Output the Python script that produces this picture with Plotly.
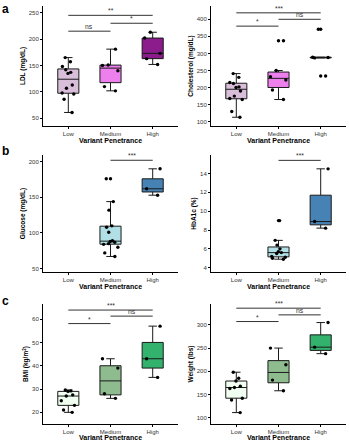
import numpy as np
import plotly.graph_objects as go

categories = ["Low", "Medium", "High"]

# ---- data ----
ldl_low = [61, 86, 96, 98, 107, 113, 135, 137, 142, 148, 157, 165]
ldl_medium = [102, 110, 140, 150, 151, 181]
ldl_high = [152, 163, 173, 202, 213]

chol_low = [113, 130, 165, 168, 175, 190, 200, 202, 212, 215, 230, 241]
chol_medium = [165, 193, 222, 232, 250, 337]
chol_high = [234, 287, 288, 289, 371]

glucose_medium = [67, 72, 80, 84, 85, 87, 88, 89, 101, 108, 110, 132, 144, 176]
glucose_high = [153, 162, 190]

hba1c_medium = [4.9, 5.0, 5.1, 5.2, 5.5, 5.6, 5.7, 6.0, 6.4, 6.9, 9.0]
hba1c_high = [8.2, 8.9, 14.5]

bmi_low = [20, 21, 23, 25, 27, 27.5, 29, 29.2, 29.6]
bmi_medium = [26, 28, 39, 43]
bmi_high = [35, 43, 57]

weight_low = [111, 138, 142, 163, 165, 168, 179, 185, 198]
weight_medium = [158, 181, 214, 250]
weight_high = [238, 252, 305]

# significance comparisons: (group 1, group 2, label, bracket level)
ldl_sig = [("Low", "High", "**", 245), ("Medium", "High", "*", 230), ("Low", "Medium", "ns", 215)]
chol_sig = [("Low", "High", "***", 419), ("Medium", "High", "ns", 400), ("Low", "Medium", "*", 380)]
glucose_sig = [("Medium", "High", "***", 202)]
hba1c_sig = [("Medium", "High", "***", 15.4)]
bmi_sig = [("Low", "High", "***", 63.9), ("Medium", "High", "ns", 61.3), ("Low", "Medium", "*", 58.1)]
weight_sig = [("Low", "High", "***", 336), ("Medium", "High", "ns", 321.6), ("Low", "Medium", "*", 307.2)]

y_titles = ["LDL (mg/dL)", "Cholesterol (mg/dL)", "Glucose (mg/dL)", "HbA1c (%)",
            "BMI (kg/m<sup>2</sup>)", "Weight (lbs)"]
y_ticks = [[50, 100, 150, 200, 250], [100, 150, 200, 250, 300, 350, 400], [50, 100, 150, 200],
           [4, 6, 8, 10, 12, 14], [20, 30, 40, 50, 60], [100, 150, 200, 250, 300]]
x_title = "Variant Penetrance"
panel_labels = ["a", "b", "c"]

# ---- styling ----
purples = {"Low": "#D9BEDA", "Medium": "#EE80EE", "High": "#8C1C8C"}
blues = {"Low": "#DDEFF5", "Medium": "#B0E0E6", "High": "#4682B4"}
greens = {"Low": "#F0FFF0", "Medium": "#8FBC8F", "High": "#33B26E"}

panels = [
    ({"Low": ldl_low, "Medium": ldl_medium, "High": ldl_high}, purples, [35.4, 262.7], ldl_sig),
    ({"Low": chol_low, "Medium": chol_medium, "High": chol_high}, purples, [87.4, 439], chol_sig),
    ({"Medium": glucose_medium, "High": glucose_high}, blues, [45.2, 209.4], glucose_sig),
    ({"Medium": hba1c_medium, "High": hba1c_high}, blues, [3.54, 15.97], hba1c_sig),
    ({"Low": bmi_low, "Medium": bmi_medium, "High": bmi_high}, greens, [15, 66.5], bmi_sig),
    ({"Low": weight_low, "Medium": weight_medium, "High": weight_high}, greens, [86.4, 345], weight_sig),
]


def box_stats(v):
    """Tukey box statistics (R type-7 quartiles, 1.5*IQR whiskers) like ggplot."""
    a = np.sort(np.asarray(v, dtype=float))
    q1, med, q3 = np.percentile(a, [25, 50, 75])
    iqr = q3 - q1
    lo = a[a >= q1 - 1.5 * iqr].min()
    hi = a[a <= q3 + 1.5 * iqr].max()
    return q1, med, q3, lo, hi


W, H = 349, 440
x_dom_px = [(43, 178), (211, 346)]
y_dom_px = [(6, 126), (155, 272), (304, 424)]
x_title_gap = [14.5, 14.5, 13.0]
label_top_px = [0, 142, 292]

FONT = "Liberation Sans, Arial, sans-serif"
fig = go.Figure()
annotations = []
layout = {}

for i, (vals, colors, yr, sig) in enumerate(panels):
    suf = "" if i == 0 else str(i + 1)
    xa, ya = "x" + suf, "y" + suf
    col, row = i % 2, i // 2
    for cat in categories:
        if cat not in vals:
            continue
        v = vals[cat]
        q1, med, q3, lo, hi = box_stats(v)
        fig.add_trace(go.Box(
            x=[cat], q1=[q1], median=[med], q3=[q3], lowerfence=[lo], upperfence=[hi],
            xaxis=xa, yaxis=ya, name=cat, fillcolor=colors[cat],
            line=dict(color="#1a1a1a", width=1), width=0.5, whiskerwidth=0.4,
            boxpoints=False, showlegend=False,
        ))
        # outliers drawn by the boxplot at the box centre
        outl = [y for y in v if y < lo or y > hi]
        if outl:
            fig.add_trace(go.Scatter(
                x=[cat] * len(outl), y=outl, xaxis=xa, yaxis=ya, mode="markers",
                marker=dict(color="black", size=3.4), showlegend=False, hoverinfo="skip",
            ))
        # jittered raw points
        fig.add_trace(go.Box(
            x=[cat] * len(v), y=v, xaxis=xa, yaxis=ya, name=cat,
            fillcolor="rgba(0,0,0,0)", line=dict(color="rgba(0,0,0,0)", width=0),
            marker=dict(color="black", size=3.4), boxpoints="all", jitter=0.9, pointpos=0,
            width=0.5, whiskerwidth=0, showlegend=False,
        ))
    for g1, g2, lab, lvl in sig:
        fig.add_trace(go.Scatter(
            x=[g1, g2], y=[lvl, lvl], xaxis=xa, yaxis=ya, mode="lines",
            line=dict(color="#333333", width=1), showlegend=False, hoverinfo="skip",
        ))
        annotations.append(dict(
            x=(categories.index(g1) + categories.index(g2)) / 2, y=lvl, xref=xa, yref=ya,
            text=lab, showarrow=False, yanchor="bottom", yshift=-1,
            font=dict(family=FONT, size=6.8, color="#333333"),
        ))
    x0, x1 = x_dom_px[col]
    y0, y1 = y_dom_px[row]
    layout["xaxis" + suf] = dict(
        domain=[x0 / W, x1 / W], anchor=ya, type="category",
        categoryorder="array", categoryarray=categories, range=[-0.6, 2.6],
        showline=True, linecolor="black", linewidth=1, ticks="outside", ticklen=2,
        tickcolor="black", tickfont=dict(family=FONT, size=6, color="#333333"),
        showgrid=False, zeroline=False, automargin=False,
    )
    layout["yaxis" + suf] = dict(
        domain=[1 - y1 / H, 1 - y0 / H], anchor=xa, range=yr, tickvals=y_ticks[i],
        showline=True, linecolor="black", linewidth=1, ticks="outside", ticklen=2,
        tickcolor="black", tickfont=dict(family=FONT, size=6, color="#333333"),
        showgrid=False, zeroline=False, automargin=False,
        title=dict(text=y_titles[i], standoff=2,
                   font=dict(family=FONT, size=6.5, color="black", weight="bold")),
    )
    # x-axis title (as annotation so the bottom row isn't clamped by the margin)
    annotations.append(dict(
        x=(x0 + x1) / 2 / W, y=1 - (y1 + x_title_gap[row]) / H, xref="paper", yref="paper",
        text=x_title, showarrow=False, xanchor="center", yanchor="middle",
        font=dict(family=FONT, size=7, color="black", weight="bold"),
    ))

for r, lab in enumerate(panel_labels):
    annotations.append(dict(
        x=0, y=1 - label_top_px[r] / H, xref="paper", yref="paper",
        text=lab, showarrow=False, xanchor="left", yanchor="top",
        font=dict(family=FONT, size=12, color="black", weight="bold"),
    ))

fig.update_layout(
    width=W, height=H, margin=dict(l=0, r=0, t=0, b=0),
    paper_bgcolor="white", plot_bgcolor="white", boxmode="overlay",
    annotations=annotations, **layout,
)
fig.write_html(
    "out.html",
    config={"displayModeBar": False},
    post_script="document.body.style.margin='0';document.body.style.overflow='hidden';",
)
